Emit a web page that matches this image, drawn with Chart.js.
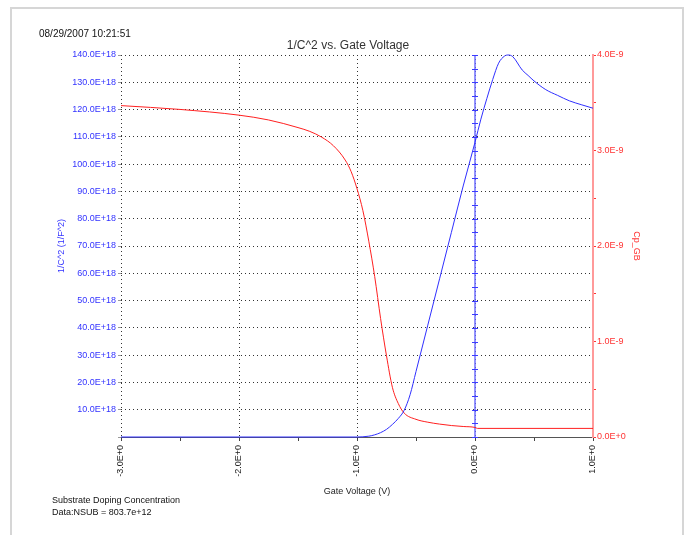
<!DOCTYPE html>
<html><head><meta charset="utf-8">
<script src="https://cdn.jsdelivr.net/npm/chart.js@4/dist/chart.umd.min.js"></script>
<style>html,body{margin:0;padding:0;background:#fff;} #wrap{position:relative;width:688px;height:535px;}</style>
</head><body><div id="wrap"><canvas id="c" width="688" height="535"></canvas></div>
<script>
const chartTitle = '1/C^2 vs. Gate Voltage';
const timestamp = '08/29/2007 10:21:51';
const footerLines = ['Substrate Doping Concentration', 'Data:NSUB = 803.7e+12'];
const xAxisTitle = 'Gate Voltage (V)';
const leftAxisTitle = '1/C^2 (1/F^2)';
const rightAxisTitle = 'Cp_GB';

const xTickLabels = ['-3.0E+0', '', '-2.0E+0', '', '-1.0E+0', '', '0.0E+0', '', '1.0E+0'];
const leftTickLabels = ['', '10.0E+18', '20.0E+18', '30.0E+18', '40.0E+18', '50.0E+18', '60.0E+18', '70.0E+18',
  '80.0E+18', '90.0E+18', '100.0E+18', '110.0E+18', '120.0E+18', '130.0E+18', '140.0E+18'];
const rightTickLabels = ['0.0E+0', '', '1.0E-9', '', '2.0E-9', '', '3.0E-9', '', '4.0E-9'];

// 1/C^2 series (units of 1E+18 1/F^2)
const blueVoltage = [-3, -2, -1.0, -0.9, -0.85, -0.8, -0.75, -0.7, -0.65, -0.6, -0.55, -0.5, -0.4, -0.3, -0.2, -0.1, 0,
  0.05, 0.1, 0.15, 0.2, 0.25, 0.28, 0.32, 0.4, 0.45, 0.5, 0.6, 0.7, 0.8, 0.9, 1.0];
const invCapSquaredE18 = [0, 0, 0, 0.3, 0.8, 1.6, 2.8, 4.6, 6.8, 9.8, 15.5, 24, 41, 58, 75, 92, 108,
  116.5, 124, 131, 137, 139.6, 140, 139.4, 134.5, 132.5, 130.5, 127.3, 125.2, 123.2, 121.8, 120.5];

// Cp_GB series (units of 1E-9 F)
const redVoltage = [-3, -2.5, -2, -1.75, -1.5, -1.4, -1.3, -1.2, -1.1, -1.05, -1.0, -0.95, -0.9, -0.85, -0.8, -0.75,
  -0.7, -0.65, -0.6, -0.5, -0.4, -0.3, -0.2, -0.1, 0, 0.02, 1.0];
const capacitanceE9 = [3.47, 3.43, 3.37, 3.32, 3.24, 3.20, 3.14, 3.05, 2.90, 2.78, 2.60, 2.37, 2.05, 1.68, 1.24, 0.85,
  0.52, 0.35, 0.25, 0.185, 0.155, 0.135, 0.12, 0.11, 0.10, 0.09, 0.09];

const E18 = 1e18, E9 = 1e-9;
const FONT = '"Liberation Sans", Arial, sans-serif';

const bluePoints = blueVoltage.map((v, i) => ({x: v, y: invCapSquaredE18[i] * E18}));
const redPoints = redVoltage.map((v, i) => ({x: v, y: capacitanceE9[i] * E9}));

const decor = {
  id: 'decor',
  beforeDraw(chart) {
    const ctx = chart.ctx;
    ctx.save();
    ctx.fillStyle = '#fff';
    ctx.fillRect(0, 0, chart.width, chart.height);
    ctx.strokeStyle = '#d6d6d6';
    ctx.lineWidth = 2;
    ctx.strokeRect(11, 8, 672, 545);
    ctx.fillStyle = '#111';
    ctx.font = '10px ' + FONT;
    ctx.textAlign = 'left';
    ctx.textBaseline = 'middle';
    ctx.fillText(timestamp, 39, 34);
    ctx.font = '12px ' + FONT;
    ctx.fillStyle = '#333';
    ctx.textAlign = 'center';
    ctx.fillText(chartTitle, 348, 46);
    ctx.font = '9px ' + FONT;
    ctx.fillStyle = '#111';
    ctx.textAlign = 'left';
    footerLines.forEach((t, i) => ctx.fillText(t, 52, 501 + i * 12));
    ctx.restore();
  },
  beforeDatasetsDraw(chart) {
    const ctx = chart.ctx, xs = chart.scales.x, ys = chart.scales.y;
    const x0 = xs.getPixelForValue(0);
    ctx.save();
    ctx.strokeStyle = 'rgba(110,110,255,0.75)';
    ctx.lineWidth = 2;
    ctx.beginPath();
    ctx.moveTo(x0, ys.getPixelForValue(ys.max));
    ctx.lineTo(x0, ys.getPixelForValue(ys.min));
    ctx.stroke();
    ctx.strokeStyle = '#3a3aff';
    ctx.lineWidth = 1;
    const step = 5 * E18;
    for (let v = ys.min; v <= ys.max + 1; v += step) {
      const py = Math.round(ys.getPixelForValue(v)) + 0.5;
      ctx.beginPath();
      ctx.moveTo(x0 - 3, py);
      ctx.lineTo(x0 + 3, py);
      ctx.stroke();
    }
    ctx.restore();
  }
};

new Chart(document.getElementById('c'), {
  type: 'line',
  data: {
    datasets: [
      {label: '1/C^2', data: bluePoints, yAxisID: 'y', borderColor: '#3030ff', borderWidth: 1,
        pointRadius: 0, cubicInterpolationMode: 'monotone', clip: false},
      {label: 'Cp_GB', data: redPoints, yAxisID: 'y1', borderColor: '#ff2020', borderWidth: 1,
        pointRadius: 0, cubicInterpolationMode: 'monotone', clip: false}
    ]
  },
  options: {
    responsive: false,
    animation: false,
    devicePixelRatio: 1,
    parsing: false,
    layout: {padding: {left: 52, right: 42, top: 55, bottom: 38}},
    plugins: {legend: {display: false}, title: {display: false}, tooltip: {enabled: false}},
    scales: {
      x: {
        type: 'linear', position: 'bottom', min: -3, max: 1,
        ticks: {stepSize: 0.5, autoSkip: false, maxRotation: 90, minRotation: 90,
          callback: (v) => xTickLabels[Math.round((v + 3) / 0.5)],
          color: '#222', font: {family: FONT, size: 9}, padding: 4},
        grid: {color: (c) => (c.index % 2 === 0 ? '#333' : 'rgba(0,0,0,0)'), lineWidth: 1,
          tickColor: '#444', tickLength: 4},
        border: {display: true, color: '#555', width: 1, dash: [1, 3]},
        title: {display: true, text: xAxisTitle, color: '#222', font: {family: FONT, size: 9}, padding: {top: 4, bottom: 0}},
        afterFit: (s) => { s.height = 60; }
      },
      y: {
        type: 'linear', position: 'left', min: 0, max: 140 * E18,
        ticks: {stepSize: 10 * E18, autoSkip: false,
          callback: (v) => leftTickLabels[Math.round(v / (10 * E18))],
          color: '#3333ff', font: {family: FONT, size: 9}, padding: 2},
        grid: {color: '#333', lineWidth: 1, tickColor: '#999', tickLength: 3},
        border: {display: false, dash: [1, 3]},
        title: {display: true, text: leftAxisTitle, color: '#3333ff', font: {family: FONT, size: 9}, padding: {top: 4, bottom: 0}},
        afterFit: (s) => { s.width = 69; }
      },
      y1: {
        type: 'linear', position: 'right', min: 0, max: 4 * E9,
        ticks: {stepSize: 0.5 * E9, autoSkip: false,
          callback: (v) => rightTickLabels[Math.round(v / (0.5 * E9))],
          color: '#ff3333', font: {family: FONT, size: 9}, padding: 1},
        grid: {drawOnChartArea: false, tickColor: '#ff3333', tickLength: 3},
        border: {display: true, color: '#ff9a9a', width: 2},
        title: {display: true, text: rightAxisTitle, color: '#ff3333', font: {family: FONT, size: 9}, padding: {top: 4, bottom: 0}},
        afterFit: (s) => { s.width = 53; }
      }
    }
  },
  plugins: [decor]
});
</script>
</body></html>
